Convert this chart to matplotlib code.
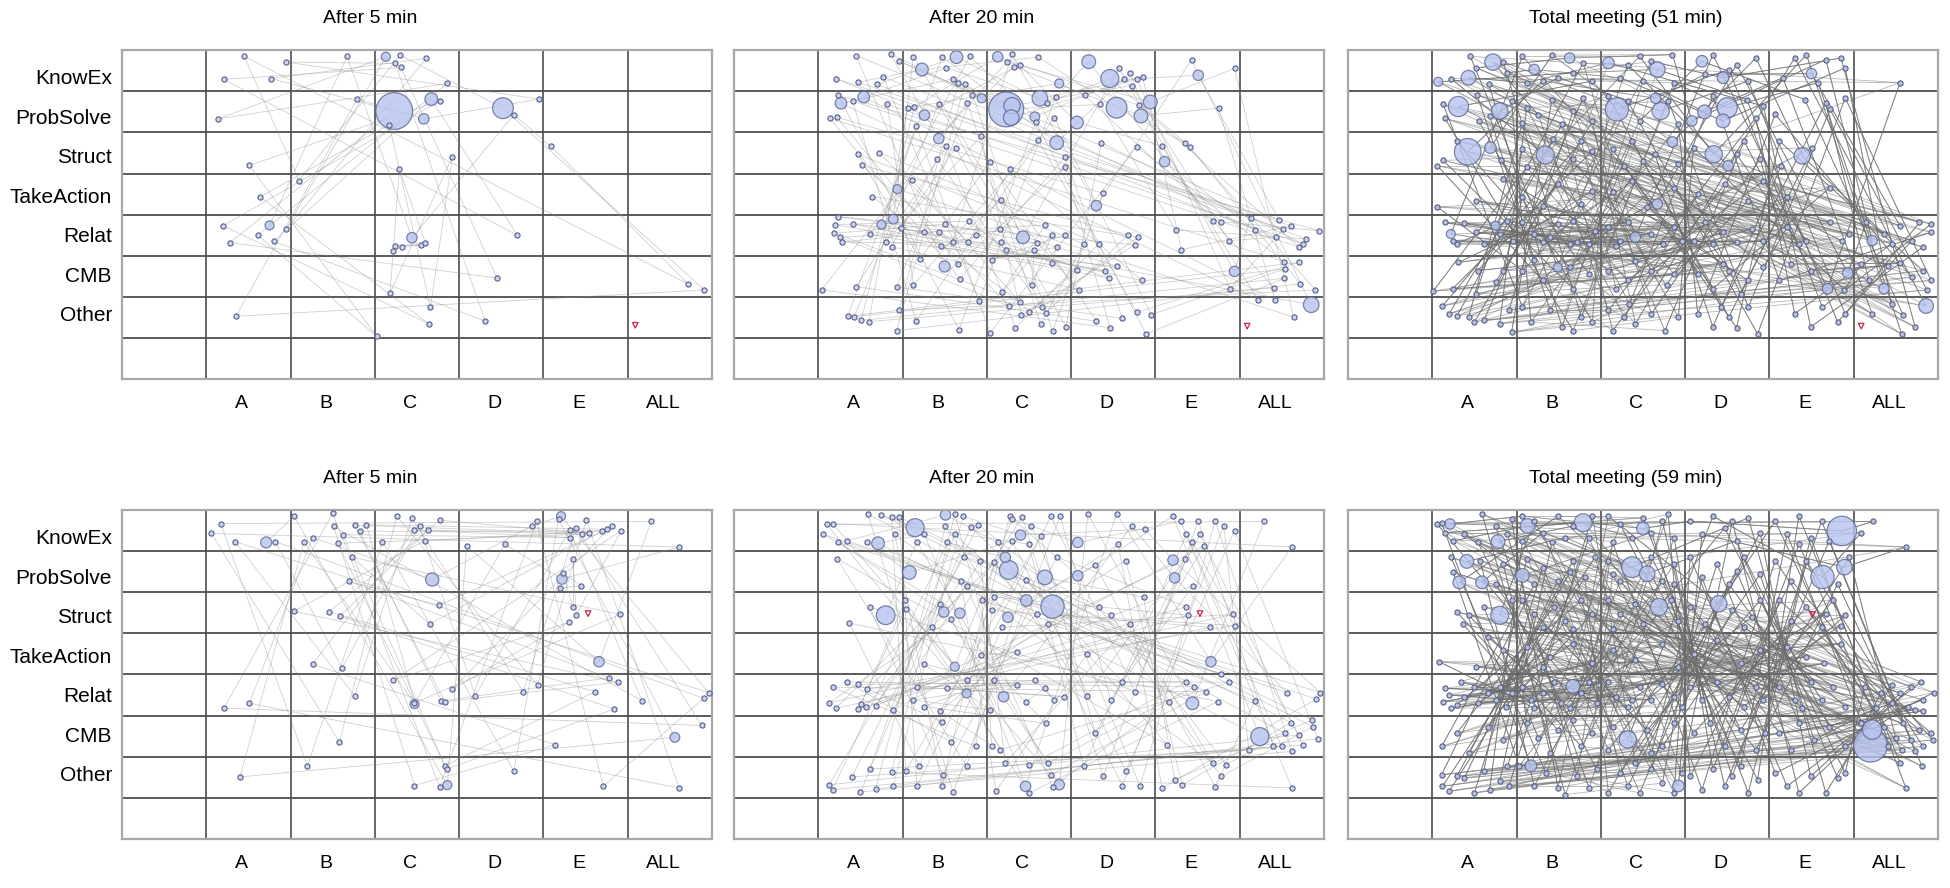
import matplotlib.pyplot as plt
from matplotlib.collections import LineCollection

plt.rcParams['font.family'] = ['Liberation Sans', 'DejaVu Sans']

# categories
rows = ['KnowEx', 'ProbSolve', 'Struct', 'TakeAction', 'Relat', 'CMB', 'Other']
speakers = ['A', 'B', 'C', 'D', 'E', 'ALL']

# ---- meeting 1, after 5 min: (column, row) positions of utterances ----
m1_5_nodes = [
    (1.45, 0.15), (1.95, 0.29), (1.21, 0.71), (1.77, 0.69), (2.67, 0.15), (3.30, 0.12), (3.24, 0.32),
    (3.31, 0.42), (3.61, 0.20), (3.86, 0.81), (2.79, 1.19), (3.77, 1.23), (3.17, 1.81), (4.65, 1.57),
    (4.95, 1.19), (1.14, 1.67), (1.51, 2.80), (3.92, 2.59), (3.29, 2.90), (5.09, 2.34), (2.10, 3.17),
    (1.64, 3.57), (1.20, 4.27), (1.61, 4.50), (1.95, 4.34), (1.28, 4.68), (1.80, 4.65), (3.24, 4.76),
    (3.32, 4.78), (3.22, 4.88), (3.55, 4.74), (3.60, 4.69), (4.69, 4.50), (4.45, 5.54), (3.18, 5.90),
    (1.35, 6.47), (3.66, 6.25), (3.64, 6.65), (4.31, 6.59), (3.02, 6.95), (6.72, 5.69), (6.91, 5.83)]
m1_5_bubbles = [(3.13, 0.16, 3), (3.23, 1.48, 50), (3.67, 1.19, 6), (3.58, 1.67, 4),
                (4.52, 1.41, 16), (1.75, 4.26, 3), (3.44, 4.56, 4)]
m1_5_red = [(6.09, 6.69)]

# ---- meeting 1, after 20 min ----
m1_20_nodes = [
    (1.45, 0.13), (1.86, 0.10), (1.96, 0.27), (1.21, 0.69), (1.47, 0.78), (1.70, 0.83), (1.77, 0.65),
    (1.24, 1.10), (1.41, 1.24), (1.82, 1.32), (1.14, 1.66), (1.22, 1.63), (1.47, 2.53), (1.72, 2.49),
    (1.52, 2.80), (1.64, 3.56), (1.24, 4.05), (1.20, 4.24), (1.19, 4.45), (1.26, 4.55), (1.28, 4.67),
    (1.41, 4.23), (1.61, 4.47), (1.80, 4.66), (1.87, 4.78), (1.98, 4.33), (1.45, 5.75), (1.04, 5.83),
    (1.93, 5.76), (1.35, 6.47), (1.43, 6.48), (1.51, 6.57), (1.60, 6.60), (1.93, 6.82), (1.96, 6.33),
    (2.13, 0.16), (2.47, 0.16), (2.80, 0.15), (2.52, 0.43), (2.60, 0.70), (2.66, 0.81), (2.74, 0.83),
    (2.06, 1.40), (2.14, 1.38), (2.43, 1.30), (2.16, 1.84), (2.83, 1.08), (2.77, 1.28), (2.52, 2.34),
    (2.63, 2.37), (2.41, 2.65), (2.93, 2.09), (2.11, 3.16), (2.25, 4.41), (2.43, 4.41), (2.51, 4.23),
    (2.79, 4.16), (2.87, 4.49), (2.46, 4.77), (2.60, 4.67), (2.78, 4.67), (2.21, 5.08), (2.66, 5.20),
    (2.68, 5.56), (2.13, 5.71), (2.16, 6.59), (2.67, 6.80), (2.91, 6.09),
    (3.30, 0.10), (3.24, 0.28), (3.32, 0.40), (3.39, 0.36), (3.61, 0.17), (3.71, 1.28), (3.82, 1.13),
    (3.58, 1.75), (3.80, 1.64), (3.61, 2.19), (3.93, 2.59), (3.93, 2.84), (3.04, 2.71), (3.28, 2.88),
    (3.17, 3.64), (3.16, 4.35), (3.17, 4.67), (3.23, 4.86), (3.59, 4.69), (3.69, 4.25), (3.77, 4.49),
    (3.56, 4.86), (3.83, 4.79), (3.93, 4.49), (3.06, 5.09), (3.77, 5.18), (3.54, 5.71), (3.18, 5.89),
    (3.26, 6.22), (3.40, 6.13), (3.50, 6.37), (3.41, 6.45), (3.65, 6.25), (3.70, 6.39), (3.34, 6.75),
    (3.64, 6.67), (3.78, 6.84), (3.04, 6.87), (3.94, 6.72),
    (4.57, 0.43), (4.70, 0.55), (4.63, 0.71), (4.78, 0.69), (4.85, 0.65), (4.72, 0.86), (4.34, 1.32),
    (4.16, 1.10), (4.81, 1.34), (4.36, 2.25), (4.78, 2.35), (4.38, 3.48), (4.15, 4.71), (4.33, 4.71),
    (4.68, 4.49), (4.79, 4.55), (4.76, 4.73), (4.07, 5.34), (4.40, 5.37), (4.45, 5.54), (4.55, 5.26),
    (4.09, 5.82), (4.84, 5.60), (4.30, 6.59), (4.46, 6.75), (4.61, 6.52), (4.78, 6.37), (4.95, 6.43),
    (4.89, 6.90),
    (5.43, 0.23), (5.94, 0.44), (5.75, 1.41), (5.08, 2.33), (5.35, 2.25), (5.41, 2.35), (5.68, 4.15),
    (5.78, 4.17), (5.24, 4.37), (5.87, 4.63), (5.31, 4.85), (5.89, 5.80),
    (6.13, 4.07), (6.18, 4.37), (6.47, 4.13), (6.52, 4.35), (6.61, 4.27), (6.43, 4.55), (6.79, 4.59),
    (6.94, 4.39), (6.71, 4.79), (6.75, 4.71), (6.53, 5.14), (6.70, 5.16), (6.54, 5.32), (6.53, 5.55),
    (6.41, 5.78), (6.72, 5.68), (6.90, 5.83), (6.22, 6.07), (6.42, 6.07), (6.64, 6.49)]
m1_20_bubbles = [
    (1.27, 1.29, 5), (1.54, 1.14, 5), (1.94, 3.38, 3), (1.75, 4.24, 3), (1.89, 4.11, 3.5),
    (2.64, 0.17, 6), (2.23, 0.47, 6), (2.26, 1.58, 4), (2.94, 1.17, 3), (2.43, 2.15, 4), (2.50, 5.26, 4.5),
    (3.13, 0.16, 4), (3.86, 0.81, 3), (3.23, 1.44, 45), (3.30, 1.35, 10), (3.29, 1.64, 9), (3.63, 1.17, 9),
    (3.57, 1.62, 3.5), (3.83, 2.25, 7), (3.43, 4.55, 6),
    (4.21, 0.28, 7), (4.46, 0.69, 12), (4.54, 1.40, 16), (4.07, 1.76, 6), (4.83, 1.60, 7), (4.94, 1.26, 7),
    (4.30, 3.78, 4), (5.51, 0.61, 4), (5.11, 2.71, 4), (5.94, 5.38, 4), (6.85, 6.19, 9)]
m1_20_red = [(6.09, 6.71)]

# ---- meeting 1, total (51 min) ----
m1_tot_nodes = [
    (1.45, 0.15), (1.22, 0.69), (1.52, 0.43), (1.89, 0.55), (1.67, 0.82), (1.84, 0.28), (1.13, 1.32),
    (1.53, 1.08), (1.55, 1.72), (1.15, 1.66), (1.94, 1.24), (1.68, 1.60), (1.81, 2.67), (1.13, 2.68),
    (1.06, 2.81), (1.29, 2.21), (1.06, 3.81), (1.84, 3.14), (1.52, 3.66), (1.15, 4.19), (1.24, 4.63),
    (1.38, 4.21), (1.52, 4.43), (1.61, 4.71), (1.89, 4.15), (1.80, 4.47), (1.96, 4.63), (1.29, 4.71),
    (1.31, 5.16), (1.54, 5.36), (1.84, 5.36), (1.01, 5.86), (1.24, 5.80), (1.75, 5.64), (1.52, 5.93),
    (1.12, 6.22), (1.20, 6.41), (1.29, 6.47), (1.43, 6.49), (1.50, 6.61), (1.61, 6.57), (1.91, 6.31),
    (1.94, 6.86), (1.80, 6.65),
    (2.79, 0.31), (2.07, 0.15), (2.42, 0.12), (2.31, 0.75), (2.49, 0.67), (2.90, 0.75), (2.67, 0.55),
    (2.12, 0.79), (2.26, 1.58), (2.12, 1.40), (2.42, 1.20), (2.67, 1.48), (2.79, 1.16), (2.90, 1.72),
    (2.07, 1.76), (2.54, 1.80), (2.43, 2.17), (2.77, 2.21), (2.07, 2.41), (2.67, 2.65), (2.90, 2.45),
    (2.12, 2.85), (2.07, 3.58), (2.49, 3.26), (2.77, 3.74), (2.31, 3.78), (2.90, 3.42), (2.07, 4.19),
    (2.21, 4.47), (2.31, 4.67), (2.49, 4.23), (2.63, 4.71), (2.72, 4.67), (2.86, 4.71), (2.40, 4.55),
    (2.67, 4.15), (2.93, 4.39), (2.07, 5.36), (2.63, 5.28), (2.31, 5.60), (2.67, 5.80), (2.86, 5.44),
    (2.21, 5.10), (2.17, 6.61), (2.67, 6.82), (2.90, 6.61), (2.40, 6.33), (2.07, 6.25), (2.77, 6.49),
    (2.54, 6.73),
    (3.32, 0.35), (3.46, 0.15), (3.85, 0.11), (3.23, 0.67), (3.50, 0.75), (3.87, 0.79), (3.60, 0.27),
    (3.46, 1.72), (3.09, 1.12), (3.80, 1.24), (3.92, 1.80), (3.32, 1.24), (3.14, 2.41), (3.37, 2.21),
    (3.64, 2.53), (3.92, 2.77), (3.28, 2.81), (3.50, 2.69), (3.14, 3.46), (3.37, 3.18), (3.87, 3.34),
    (3.55, 3.82), (3.09, 4.31), (3.23, 4.63), (3.60, 4.47), (3.74, 4.71), (3.87, 4.31), (3.32, 4.19),
    (3.18, 4.75), (3.96, 4.63), (3.09, 5.36), (3.32, 5.60), (3.60, 5.36), (3.78, 5.72), (3.41, 5.12),
    (3.18, 5.80), (3.87, 5.44), (3.14, 6.82), (3.28, 6.49), (3.41, 6.65), (3.60, 6.41), (3.76, 6.82),
    (3.92, 6.49), (3.34, 6.17), (3.09, 6.33),
    (4.33, 0.11), (4.61, 0.35), (4.84, 0.19), (4.24, 0.59), (4.75, 0.75), (4.52, 0.47), (4.73, 1.20),
    (4.93, 1.36), (4.84, 1.64), (4.33, 1.12), (4.10, 2.37), (4.70, 2.21), (4.89, 2.65), (4.61, 2.53),
    (4.15, 3.50), (4.47, 3.26), (4.75, 3.66), (4.93, 3.18), (4.45, 4.43), (4.24, 4.19), (4.10, 4.63),
    (4.61, 4.67), (4.79, 4.35), (4.93, 4.63), (4.33, 4.71), (4.45, 5.20), (4.52, 5.36), (4.15, 5.44),
    (4.75, 5.60), (4.93, 5.28), (4.33, 5.80), (4.66, 5.93), (4.33, 6.73), (4.52, 6.49), (4.61, 6.75),
    (4.86, 6.90), (4.15, 6.41), (4.75, 6.25), (4.43, 6.25),
    (5.30, 0.19), (5.44, 0.11), (5.67, 0.23), (5.90, 0.43), (5.16, 0.67), (5.58, 0.79), (5.85, 0.19),
    (5.42, 1.20), (5.67, 1.28), (5.72, 1.44), (5.07, 1.56), (5.90, 1.16), (5.12, 2.21), (5.51, 2.37),
    (5.14, 2.81), (5.21, 3.58), (5.72, 3.34), (5.21, 4.31), (5.44, 4.63), (5.72, 4.19), (5.86, 4.63),
    (5.95, 4.47), (5.35, 4.71), (5.26, 5.20), (5.49, 5.36), (5.89, 5.83), (5.12, 5.60), (5.30, 6.41),
    (5.49, 6.73), (5.81, 6.61), (5.63, 6.25), (5.90, 6.41),
    (6.55, 0.79), (6.15, 4.19), (6.36, 4.47), (6.55, 4.27), (6.78, 4.19), (6.92, 4.23), (6.69, 4.63),
    (6.82, 4.79), (6.45, 4.71), (6.92, 4.43), (6.09, 5.20), (6.41, 5.24), (6.55, 5.18), (6.82, 5.36),
    (6.92, 5.60), (6.69, 5.52), (6.87, 5.83), (6.18, 5.60), (6.59, 6.45), (6.73, 6.73), (6.57, 6.90),
    (6.22, 6.41), (6.45, 6.17)]
m1_tot_bubbles = [
    (1.72, 0.29, 10), (1.43, 0.67, 8), (1.07, 0.77, 3), (1.31, 1.37, 15), (1.80, 1.48, 10),
    (1.42, 2.47, 26), (1.69, 2.37, 5), (1.22, 4.47, 3), (1.75, 4.27, 3), (2.21, 0.47, 4), (2.63, 0.19, 4),
    (2.34, 2.55, 12), (2.49, 5.28, 3), (3.09, 0.31, 5), (3.67, 0.47, 9), (3.19, 1.44, 20), (3.71, 1.48, 11),
    (3.65, 1.17, 4), (3.85, 2.23, 4), (3.67, 3.74, 4), (3.41, 4.55, 4), (4.20, 0.27, 5), (4.45, 0.67, 5),
    (4.50, 1.40, 15), (4.23, 1.50, 7), (4.45, 1.72, 7), (4.08, 1.72, 4), (4.34, 2.53, 11), (4.51, 2.81, 4),
    (5.50, 0.57, 4), (5.39, 2.57, 10), (5.93, 5.42, 4), (5.69, 5.80, 4), (6.22, 4.63, 4), (6.36, 5.80, 4),
    (6.86, 6.22, 8)]
m1_tot_red = [(6.09, 6.71)]

# ---- meeting 2, after 5 min ----
m2_5_nodes = [
    (1.17, 0.33), (1.06, 0.57), (1.34, 0.77), (1.82, 0.77), (1.21, 4.82), (1.51, 4.70), (1.40, 6.49),
    (2.04, 0.15), (2.16, 0.77), (2.26, 0.67), (2.50, 0.08), (2.51, 0.40), (2.62, 0.60), (2.56, 0.81),
    (2.76, 0.37), (2.82, 0.52), (2.90, 0.36), (2.73, 1.15), (2.69, 1.73), (2.04, 2.46), (2.46, 2.47),
    (2.59, 2.58), (2.26, 3.75), (2.61, 3.85), (2.76, 4.52), (2.58, 5.65), (2.20, 6.23),
    (3.09, 0.77), (3.26, 0.15), (3.44, 0.20), (3.53, 0.39), (3.47, 0.49), (3.63, 0.49), (3.77, 0.25),
    (3.59, 0.75), (3.76, 2.32), (3.65, 2.77), (3.22, 4.14), (3.92, 4.36), (3.47, 4.69), (3.79, 4.64),
    (3.83, 4.66), (3.83, 6.22), (3.85, 6.30), (3.47, 6.70), (3.77, 6.73),
    (4.09, 0.87), (4.54, 0.83), (4.86, 0.39), (4.92, 0.27), (4.19, 4.52), (4.76, 4.42), (4.93, 4.26),
    (4.65, 6.35),
    (5.18, 0.23), (5.51, 0.25), (5.39, 0.43), (5.31, 0.49), (5.31, 0.67), (5.46, 0.59), (5.54, 0.57),
    (5.69, 0.51), (5.76, 0.47), (5.81, 0.39), (5.92, 0.51), (5.35, 1.19), (5.23, 1.54), (5.20, 1.90),
    (5.45, 1.84), (5.35, 2.36), (5.39, 2.56), (5.30, 2.73), (5.91, 2.54), (5.78, 4.08), (5.88, 4.19),
    (5.61, 4.42), (5.84, 4.84), (5.14, 5.71), (5.71, 6.72),
    (6.28, 0.28), (6.61, 0.90), (6.96, 4.44), (6.90, 4.58), (6.17, 4.64), (6.88, 5.24), (6.61, 6.76)]
m2_5_bubbles = [(1.71, 0.79, 4.5), (3.68, 1.69, 6.5), (3.47, 4.72, 3), (3.86, 6.69, 3), (5.21, 0.15, 3),
                (5.22, 1.68, 4), (5.66, 3.69, 4), (6.56, 5.53, 3.5)]
m2_5_red = [(5.53, 2.52)]

# ---- meeting 2, after 20 min ----
m2_20_nodes = [
    (1.10, 0.35), (1.17, 0.33), (1.06, 0.59), (1.24, 0.79), (1.34, 0.75), (1.58, 0.79), (1.75, 0.12),
    (1.87, 0.17), (1.96, 0.17), (1.59, 0.10), (1.91, 0.59), (1.22, 1.18), (1.61, 2.36), (1.37, 2.75),
    (1.17, 4.31), (1.34, 4.18), (1.47, 4.24), (1.58, 4.36), (1.13, 4.69), (1.21, 4.82), (1.47, 4.85),
    (1.51, 4.72), (1.57, 4.78), (1.68, 4.77), (1.89, 4.86), (1.13, 6.68), (1.17, 6.80), (1.40, 6.49),
    (1.50, 6.86), (1.61, 6.30), (1.68, 6.78), (1.89, 6.70), (1.87, 6.38),
    (2.17, 0.77), (2.26, 0.59), (2.62, 0.10), (2.72, 0.15), (2.51, 0.40), (2.62, 0.59), (2.81, 0.41),
    (2.90, 0.36), (2.53, 0.79), (2.73, 1.14), (2.92, 1.23), (2.69, 1.73), (2.76, 1.85), (2.03, 2.20),
    (2.04, 2.40), (2.44, 2.28), (2.58, 2.65), (2.35, 2.85), (2.94, 2.20), (2.93, 3.53), (2.26, 3.75),
    (2.17, 4.30), (2.53, 4.34), (2.12, 4.62), (2.26, 4.78), (2.44, 4.88), (2.76, 4.14), (2.47, 5.15),
    (2.58, 5.65), (2.87, 5.75), (2.20, 6.23), (2.48, 6.44), (2.76, 6.23), (2.47, 6.72), (2.60, 6.86),
    (2.17, 6.72), (2.04, 6.35),
    (3.27, 0.15), (3.30, 0.22), (3.42, 0.17), (3.53, 0.39), (3.13, 0.79), (3.30, 0.75), (3.50, 0.83),
    (3.64, 0.63), (3.76, 0.15), (3.87, 0.15), (3.09, 1.27), (3.46, 1.70), (3.83, 1.15), (3.09, 2.12),
    (3.06, 2.44), (3.18, 2.85), (3.59, 2.52), (3.73, 2.77), (3.36, 3.45), (3.09, 4.14), (3.36, 4.26),
    (3.57, 4.14), (3.69, 4.34), (3.46, 4.66), (3.80, 4.62), (3.92, 4.54), (3.04, 4.86), (3.70, 5.19),
    (3.06, 5.73), (3.16, 5.83), (3.50, 6.21), (3.73, 6.15), (3.76, 6.44), (3.50, 6.88), (3.78, 6.73),
    (3.11, 6.84), (3.22, 6.15),
    (4.20, 0.10), (4.54, 0.09), (4.72, 0.39), (4.88, 0.47), (4.56, 0.83), (4.29, 1.35), (4.65, 1.23),
    (4.86, 2.12), (4.33, 2.36), (4.47, 2.56), (4.70, 2.77), (4.19, 3.49), (4.61, 4.18), (4.19, 4.52),
    (4.47, 4.62), (4.76, 4.42), (4.29, 5.43), (4.15, 6.23), (4.65, 6.35), (4.61, 6.70), (4.82, 6.72),
    (4.38, 6.48),
    (5.21, 0.15), (5.30, 0.27), (5.51, 0.27), (5.71, 0.27), (5.81, 0.39), (5.94, 0.51), (5.37, 0.59),
    (5.53, 0.59), (5.44, 0.79), (5.58, 0.87), (5.35, 1.19), (5.45, 1.84), (5.37, 2.35), (5.39, 2.56),
    (5.65, 2.85), (5.92, 2.54), (5.94, 2.81), (5.78, 3.98), (5.88, 4.19), (5.37, 4.18), (5.46, 4.30),
    (5.60, 4.42), (5.74, 4.66), (5.16, 4.66), (5.14, 5.71), (5.68, 6.15), (5.84, 6.19), (5.78, 6.48),
    (5.23, 6.56), (5.32, 6.68), (5.71, 6.73), (5.08, 6.76),
    (6.29, 0.28), (6.62, 0.90), (6.56, 4.44), (6.96, 4.44), (6.91, 4.60), (6.18, 4.64), (6.61, 5.17),
    (6.86, 5.10), (6.87, 5.27), (6.54, 5.43), (6.70, 5.47), (6.75, 5.71), (6.50, 5.75), (6.93, 5.56),
    (6.11, 5.83), (6.62, 5.87), (6.40, 5.75), (6.62, 6.76)]
m2_20_bubbles = [
    (2.15, 0.43, 12), (1.71, 0.81, 6), (2.08, 1.52, 7), (1.80, 2.56, 13), (2.51, 0.12, 4), (2.49, 2.48, 4),
    (2.68, 2.51, 4), (2.62, 3.81, 3), (2.76, 4.46, 3), (3.26, 1.46, 13), (3.22, 1.15, 4), (3.69, 1.64, 8),
    (3.78, 2.35, 20), (3.47, 2.20, 5), (3.25, 2.61, 4), (3.40, 0.61, 4), (3.20, 4.54, 4), (3.46, 6.72, 4),
    (3.86, 6.68, 4), (4.08, 0.79, 4), (4.08, 1.60, 4), (5.21, 1.22, 4), (5.23, 1.65, 4), (5.66, 3.69, 4),
    (5.44, 4.70, 6), (6.24, 5.51, 12)]
m2_20_red = [(5.53, 2.52)]

# ---- meeting 2, total (59 min) ----
m2_tot_nodes = [
    (1.06, 0.35), (1.11, 0.31), (1.15, 0.55), (1.25, 0.75), (1.38, 0.59), (1.54, 0.79), (1.75, 0.39),
    (1.89, 0.59), (1.59, 0.10), (1.94, 0.23), (1.22, 1.15), (1.57, 1.23), (1.25, 1.52), (1.84, 1.31),
    (1.75, 1.80), (1.29, 2.48), (1.43, 2.56), (1.36, 2.77), (1.61, 2.36), (1.94, 2.20), (1.66, 3.09),
    (1.08, 3.69), (1.84, 3.41), (1.52, 3.81), (1.15, 4.34), (1.20, 4.50), (1.13, 4.66), (1.22, 4.82),
    (1.34, 4.18), (1.38, 4.54), (1.50, 4.30), (1.54, 4.70), (1.66, 4.46), (1.75, 4.62), (1.80, 4.30),
    (1.94, 4.46), (1.87, 4.78), (1.29, 4.74), (1.66, 5.27), (1.29, 5.43), (1.84, 5.59), (1.11, 5.75),
    (1.43, 5.91), (1.11, 6.44), (1.12, 6.72), (1.20, 6.84), (1.29, 6.48), (1.38, 6.52), (1.50, 6.88),
    (1.61, 6.35), (1.68, 6.80), (1.80, 6.60), (1.89, 6.23), (1.91, 6.72),
    (2.07, 0.15), (2.21, 0.27), (2.31, 0.55), (2.49, 0.15), (2.58, 0.67), (2.67, 0.39), (2.90, 0.15),
    (2.86, 0.67), (2.42, 0.79), (2.07, 0.75), (2.12, 1.19), (2.31, 1.40), (2.49, 1.72), (2.67, 1.23),
    (2.81, 1.64), (2.93, 1.15), (2.21, 1.80), (2.63, 1.52), (2.07, 2.20), (2.21, 2.52), (2.44, 2.36),
    (2.58, 2.69), (2.77, 2.20), (2.90, 2.52), (2.31, 2.85), (2.67, 2.89), (2.12, 3.33), (2.40, 3.57),
    (2.67, 3.25), (2.90, 3.73), (2.31, 3.81), (2.07, 4.30), (2.17, 4.62), (2.31, 4.46), (2.44, 4.18),
    (2.53, 4.70), (2.77, 4.46), (2.86, 4.18), (2.95, 4.70), (2.21, 4.82), (2.63, 4.82), (2.12, 5.19),
    (2.26, 5.55), (2.49, 5.35), (2.67, 5.10), (2.77, 5.75), (2.90, 5.43), (2.40, 5.91), (2.03, 6.23),
    (2.21, 6.72), (2.35, 6.40), (2.49, 6.76), (2.58, 6.92), (2.72, 6.48), (2.86, 6.76), (2.95, 6.31),
    (3.09, 0.15), (3.23, 0.35), (3.37, 0.67), (3.50, 0.19), (3.60, 0.55), (3.73, 0.27), (3.87, 0.67),
    (3.14, 0.79), (3.80, 0.10), (3.09, 1.23), (3.23, 1.72), (3.60, 1.15), (3.73, 1.72), (3.87, 1.31),
    (3.14, 1.56), (3.87, 1.80), (3.09, 2.20), (3.23, 2.52), (3.41, 2.28), (3.50, 2.77), (3.83, 2.20),
    (3.92, 2.69), (3.14, 2.89), (3.14, 3.41), (3.41, 3.65), (3.73, 3.25), (3.92, 3.81), (3.09, 4.18),
    (3.18, 4.54), (3.32, 4.78), (3.46, 4.30), (3.60, 4.62), (3.73, 4.22), (3.87, 4.54), (3.96, 4.78),
    (3.37, 4.62), (3.14, 5.27), (3.55, 5.35), (3.73, 5.75), (3.87, 5.19), (3.09, 5.83), (3.60, 5.91),
    (3.09, 6.88), (3.23, 6.40), (3.32, 6.72), (3.46, 6.88), (3.60, 6.31), (3.73, 6.64), (3.87, 6.88),
    (3.96, 6.40), (3.41, 6.15),
    (4.06, 0.27), (4.20, 0.59), (4.33, 0.15), (4.47, 0.43), (4.61, 0.75), (4.75, 0.19), (4.89, 0.55),
    (4.56, 0.27), (4.06, 1.15), (4.20, 1.64), (4.38, 1.31), (4.52, 1.80), (4.70, 1.15), (4.89, 1.56),
    (4.61, 1.48), (4.06, 2.36), (4.24, 2.77), (4.56, 2.44), (4.70, 2.85), (4.89, 2.20), (4.79, 2.60),
    (4.10, 3.49), (4.38, 3.17), (4.66, 3.73), (4.89, 3.41), (4.06, 4.30), (4.20, 4.62), (4.38, 4.18),
    (4.52, 4.54), (4.70, 4.78), (4.84, 4.30), (4.93, 4.62), (4.10, 5.43), (4.29, 5.19), (4.47, 5.75),
    (4.66, 5.35), (4.84, 5.83), (4.95, 5.43), (4.06, 6.48), (4.20, 6.80), (4.33, 6.31), (4.47, 6.72),
    (4.56, 6.48), (4.75, 6.88), (4.86, 6.56), (4.66, 6.23),
    (5.07, 0.27), (5.21, 0.59), (5.35, 0.15), (5.49, 0.67), (5.62, 0.27), (5.71, 0.75), (5.35, 0.83),
    (5.07, 1.23), (5.26, 1.72), (5.44, 1.23), (5.81, 1.80), (5.95, 1.15), (5.12, 2.20), (5.26, 2.69),
    (5.44, 2.36), (5.62, 2.85), (5.76, 2.20), (5.90, 2.56), (5.85, 2.81), (5.67, 2.52), (5.21, 3.33),
    (5.65, 3.73), (5.85, 3.25), (5.44, 3.57), (5.12, 4.30), (5.30, 4.62), (5.49, 4.18), (5.62, 4.62),
    (5.76, 4.30), (5.90, 4.78), (5.39, 4.82), (5.12, 5.43), (5.35, 5.19), (5.53, 5.59), (5.71, 5.27),
    (5.90, 5.75), (5.26, 5.83), (5.07, 6.40), (5.21, 6.72), (5.35, 6.88), (5.49, 6.48), (5.67, 6.88),
    (5.81, 6.52), (5.90, 6.40),
    (6.23, 0.28), (6.62, 0.90), (6.09, 0.55), (6.13, 4.30), (6.32, 4.46), (6.45, 4.26), (6.55, 4.46),
    (6.68, 4.30), (6.80, 4.18), (6.95, 4.44), (6.82, 4.62), (6.64, 4.78), (6.45, 4.70), (6.27, 4.82),
    (6.73, 4.86), (6.82, 4.88), (6.09, 5.19), (6.36, 5.27), (6.59, 5.19), (6.78, 5.35), (6.92, 5.43),
    (6.50, 5.55), (6.68, 5.59), (6.82, 5.75), (6.94, 5.59), (6.57, 5.83), (6.41, 5.75), (6.73, 5.87),
    (6.81, 6.23), (6.62, 6.76), (6.55, 6.15)]
m2_tot_bubbles = [
    (1.78, 0.77, 7), (1.41, 1.25, 7), (1.32, 1.76, 6), (1.59, 1.76, 6), (1.80, 2.56, 12), (2.07, 1.59, 7),
    (2.13, 0.39, 8), (2.79, 0.31, 12), (3.37, 1.39, 16), (3.55, 1.55, 9), (3.69, 2.36, 11), (3.32, 5.58, 11),
    (4.40, 2.28, 10), (5.63, 1.63, 20), (5.89, 1.39, 9), (5.86, 0.51, 32), (6.20, 5.72, 42), (6.22, 5.34, 14),
    (2.17, 6.22, 5), (2.67, 4.29, 7), (3.92, 6.71, 5), (1.21, 0.34, 4), (3.50, 0.45, 6)]
m2_tot_red = [(5.51, 2.54)]

panels = [
    ('After 5 min', m1_5_nodes, m1_5_bubbles, m1_5_red, False),
    ('After 20 min', m1_20_nodes, m1_20_bubbles, m1_20_red, False),
    ('Total meeting (51 min)', m1_tot_nodes, m1_tot_bubbles, m1_tot_red, True),
    ('After 5 min', m2_5_nodes, m2_5_bubbles, m2_5_red, False),
    ('After 20 min', m2_20_nodes, m2_20_bubbles, m2_20_red, False),
    ('Total meeting (59 min)', m2_tot_nodes, m2_tot_bubbles, m2_tot_red, True),
]


def talk_order(xs, shift=0, rot=0):
    # turn-taking: walk round the speakers, alternating the end of each speaker's list
    by_col = {}
    for i, x in enumerate(xs):
        by_col.setdefault(int(x), []).append(i)
    cols = sorted(by_col)
    cols = cols[rot:] + cols[:rot]
    order, rnd = [], 0
    while any(by_col[c] for c in cols):
        for c in cols:
            if by_col[c]:
                order.append(by_col[c].pop(0 if (rnd + c + shift) % 2 == 0 else -1))
        rnd += 1
    return order


fig = plt.figure(figsize=(19.5, 8.88), dpi=100)
lefts = [0.0626, 0.3764, 0.6913]
bottoms = [0.573, 0.0552]
title_x = [0.42, 0.42, 0.47]

for k, (title, nodes, bubbles, red, dense) in enumerate(panels):
    r, c = divmod(k, 3)
    ax = fig.add_axes([lefts[c], bottoms[r], 0.3025, 0.3705])
    ax.set_xlim(0, 7)
    ax.set_ylim(8, 0)
    ax.set_xticks([])
    ax.set_yticks([])
    for sp in ax.spines.values():
        sp.set_color('#a8a8a8')
        sp.set_linewidth(1.6)
    for i in range(1, 7):
        ax.axvline(i, color='#4d4d4d', lw=1.2, zorder=0)
    for j in range(1, 8):
        ax.axhline(j, color='#4d4d4d', lw=1.3, zorder=0)

    xs = [p[0] for p in nodes] + [b[0] for b in bubbles]
    ys = [p[1] for p in nodes] + [b[1] for b in bubbles]
    passes = [(0, 0), (1, 0), (0, 2)] if dense else [(0, 0)]
    segs = []
    for sh, rot in passes:
        order = talk_order(xs, sh, rot)
        segs += [[(xs[a], ys[a]), (xs[b], ys[b])] for a, b in zip(order[:-1], order[1:])]
    lc = LineCollection(segs, colors='#6e6e6e' if dense else '#8a8a8a', linewidths=0.6,
                        alpha=0.5 if dense else 0.4, zorder=1)
    ax.add_collection(lc)

    big = sorted(bubbles, key=lambda b: -b[2])
    ax.scatter([b[0] for b in big], [b[1] for b in big], s=[14 * b[2] for b in big],
               facecolor='#b6c4f0', edgecolor='#5d6894', linewidth=0.9, alpha=0.8, zorder=2,
               clip_on=False)
    ax.scatter([p[0] for p in nodes], [p[1] for p in nodes], s=14,
               facecolor='#b9bfd8' if dense else '#cdd3ee',
               edgecolor='#555e88', linewidth=0.8, zorder=3, clip_on=False)
    ax.scatter([p[0] for p in red], [p[1] for p in red], s=16, marker='v', facecolor='none',
               edgecolor='#d0204a', linewidth=0.9, zorder=4)

    ax.text(title_x[c], 1.095, title, transform=ax.transAxes, ha='center', va='center', fontsize=14)
    for i, sp in enumerate(speakers):
        ax.text(i + 1.42, -0.075, sp, transform=ax.get_xaxis_transform(), ha='center', va='center',
                fontsize=14)
    if c == 0:
        for j, lab in enumerate(rows):
            ax.text(-0.12, j + 0.7 - 0.04 * j, lab, ha='right', va='center', fontsize=15, clip_on=False)

fig.savefig('out.png', dpi=100)
